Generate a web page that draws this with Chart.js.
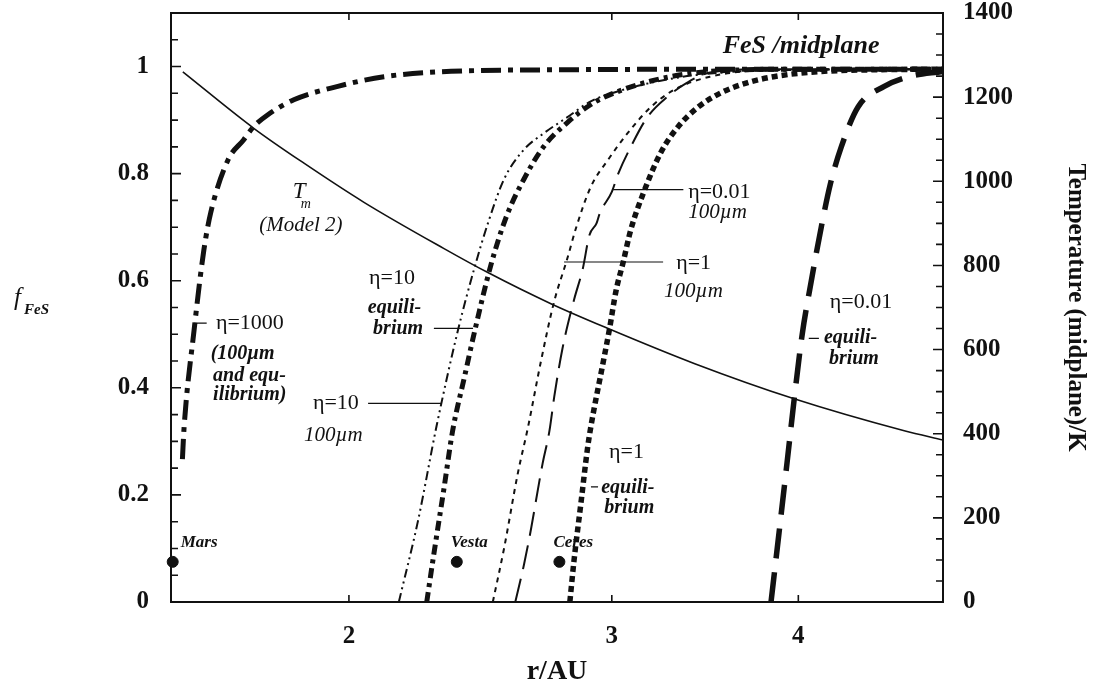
<!DOCTYPE html>
<html>
<head>
<meta charset="utf-8">
<script src="https://cdn.jsdelivr.net/npm/chart.js@4.4.0/dist/chart.umd.min.js"></script>
<style>
body { margin: 0; background: #fff; }
</style>
</head>
<body>
<canvas id="fesChart" width="1100" height="689"></canvas>
<script>
// axis ticks
var rTicks = [2, 3, 4];
var fTicks = [0, 0.2, 0.4, 0.6, 0.8, 1];
var tempTicks = [0, 200, 400, 600, 800, 1000, 1200, 1400];

// midplane temperature, model 2 (K)
var rTemp = [1.548, 1.727, 1.866, 2.047, 2.316, 2.478, 2.731, 2.983, 3.406, 3.974, 4.71, 5.0];
var tempMid = [1260, 1126, 1043, 950, 840, 783, 709, 650, 567, 483, 407, 385];

// FeS fraction, eta = 1000 (100um and equilibrium)
var rEta1000 = [1.547, 1.551, 1.575, 1.599, 1.616, 1.66, 1.70, 1.727, 1.765, 1.837, 1.966, 2.111, 2.341, 2.8, 3.5, 5.0];
var fEta1000 = [0.267, 0.326, 0.507, 0.657, 0.727, 0.826, 0.863, 0.888, 0.91, 0.938, 0.963, 0.981, 0.991, 0.994, 0.995, 0.995];

// eta = 10, 100um grains
var rEta10Grain = [2.16, 2.225, 2.29, 2.366, 2.425, 2.48, 2.541, 2.62, 2.70, 2.80, 2.904, 3.057, 3.27, 3.44, 3.8, 5.0];
var fEta10Grain = [0, 0.152, 0.33, 0.507, 0.62, 0.71, 0.79, 0.845, 0.875, 0.905, 0.935, 0.957, 0.976, 0.985, 0.993, 0.995];

// eta = 10, equilibrium
var rEta10Eq = [2.255, 2.28, 2.316, 2.347, 2.39, 2.43, 2.49, 2.55, 2.62, 2.70, 2.80, 2.92, 3.06, 3.22, 3.43, 4.0, 5.0];
var fEta10Eq = [0, 0.09, 0.213, 0.32, 0.42, 0.51, 0.63, 0.72, 0.79, 0.85, 0.895, 0.933, 0.958, 0.976, 0.989, 0.995, 0.995];

// eta = 1, 100um grains
var rEta1Grain = [2.497, 2.541, 2.595, 2.636, 2.69, 2.744, 2.80, 2.84, 2.904, 2.983, 3.075, 3.188, 3.305, 3.49, 3.8, 5.0];
var fEta1Grain = [0, 0.101, 0.24, 0.326, 0.451, 0.56, 0.64, 0.70, 0.775, 0.826, 0.876, 0.925, 0.957, 0.981, 0.993, 0.995];

// eta = 0.01, 100um grains
var rEta001Grain = [2.585, 2.62, 2.65, 2.676, 2.696, 2.725, 2.745, 2.78, 2.83, 2.869, 2.898, 2.93, 2.945, 3.0, 3.03, 3.089, 3.17, 3.27, 3.37, 3.49, 3.8, 5.0];
var fEta001Grain = [0, 0.07, 0.14, 0.208, 0.258, 0.32, 0.383, 0.473, 0.564, 0.623, 0.685, 0.707, 0.726, 0.766, 0.80, 0.85, 0.906, 0.944, 0.97, 0.989, 0.995, 0.995];

// eta = 1, equilibrium
var rEta1Eq = [2.812, 2.83, 2.86, 2.89, 2.904, 2.959, 2.988, 3.02, 3.052, 3.089, 3.15, 3.235, 3.324, 3.43, 3.55, 3.70, 3.85, 4.1, 4.5, 5.0];
var fEta1Eq = [0, 0.077, 0.183, 0.288, 0.326, 0.445, 0.507, 0.582, 0.633, 0.695, 0.764, 0.839, 0.888, 0.925, 0.951, 0.97, 0.981, 0.99, 0.994, 0.995];

// eta = 0.01, equilibrium
var rEta001Eq = [3.835, 3.883, 3.931, 3.975, 4.024, 4.081, 4.144, 4.202, 4.274, 4.387, 4.567, 4.741, 5.0];
var fEta001Eq = [0, 0.13, 0.26, 0.38, 0.5, 0.6, 0.70, 0.78, 0.85, 0.925, 0.963, 0.981, 0.991];

// bodies marked along the bottom
var planetNames = ['Mars', 'Vesta', 'Ceres'];
var rPlanet = [1.524, 2.362, 2.767];
var fPlanet = [0.075, 0.075, 0.075];

var serif = "'Liberation Serif', 'Times New Roman', serif";
var ink = '#111';

function pts(xs, ys) {
    return xs.map(function (x, i) { return { x: x, y: ys[i] }; });
}

function curve(xs, ys, width, dash, axis) {
    return {
        data: pts(xs, ys),
        yAxisID: axis || 'y',
        showLine: true,
        borderColor: ink,
        borderWidth: width,
        borderDash: dash,
        pointRadius: 0,
        fill: false,
        cubicInterpolationMode: 'monotone'
    };
}

// text placed in data units: [text, r, f, font, align]
var notes = [
    ['FeS /midplane', 4.017, 1.037, 'bold italic 26px', 'center'],
    ['(Model 2)', 1.857, 0.704, 'italic 21px', 'center'],
    ['\u03b7=1000', 1.629, 0.521, '22px', 'left'],
    ['(100\u00b5m', 1.616, 0.464, 'bold italic 20px', 'left'],
    ['and equ-', 1.622, 0.423, 'bold italic 20px', 'left'],
    ['ilibrium)', 1.622, 0.386, 'bold italic 20px', 'left'],
    ['\u03b7=10', 2.063, 0.605, '22px', 'left'],
    ['equili-', 2.059, 0.549, 'bold italic 20px', 'left'],
    ['brium', 2.076, 0.511, 'bold italic 20px', 'left'],
    ['\u03b7=10', 1.892, 0.371, '22px', 'left'],
    ['100\u00b5m', 1.866, 0.311, 'italic 21px', 'left'],
    ['\u03b7=0.01', 3.375, 0.766, '22px', 'left'],
    ['100\u00b5m', 3.375, 0.727, 'italic 21px', 'left'],
    ['\u03b7=1', 3.313, 0.633, '22px', 'left'],
    ['100\u00b5m', 3.252, 0.579, 'italic 21px', 'left'],
    ['\u03b7=0.01', 4.199, 0.560, '22px', 'left'],
    ['equili-', 4.161, 0.4925, 'bold italic 20px', 'left'],
    ['brium', 4.193, 0.455, 'bold italic 20px', 'left'],
    ['\u03b7=1', 2.987, 0.279, '22px', 'left'],
    ['equili-', 2.951, 0.2135, 'bold italic 20px', 'left'],
    ['brium', 2.965, 0.176, 'bold italic 20px', 'left']
];

// leader lines: [r from, r to, f]
var leaders = [
    [1.574, 1.606, 0.521],
    [2.280, 2.422, 0.511],
    [2.060, 2.305, 0.371],
    [3.006, 3.350, 0.770],
    [2.787, 3.247, 0.635],
    [4.065, 4.129, 0.4925],
    [2.905, 2.937, 0.215]
];

var frameAndNotes = {
    id: 'frameAndNotes',
    afterDatasetsDraw: function (chart) {
        var ctx = chart.ctx, a = chart.chartArea;
        var sx = chart.scales.x, sy = chart.scales.y, st = chart.scales.y2;
        ctx.save();

        // box and inward ticks
        ctx.strokeStyle = ink;
        ctx.lineWidth = 2;
        ctx.strokeRect(a.left, a.top, a.right - a.left, a.bottom - a.top);
        ctx.lineWidth = 1.6;
        ctx.beginPath();
        rTicks.forEach(function (v) {
            var px = sx.getPixelForValue(v);
            ctx.moveTo(px, a.bottom); ctx.lineTo(px, a.bottom - 7);
            ctx.moveTo(px, a.top); ctx.lineTo(px, a.top + 7);
        });
        for (var i = 0; i <= 22; i++) {
            var py = sy.getPixelForValue(i * 0.05);
            ctx.moveTo(a.left, py); ctx.lineTo(a.left + (i % 4 === 0 ? 10 : 7), py);
        }
        for (var k = 0; k <= 28; k++) {
            var py2 = st.getPixelForValue(k * 50);
            ctx.moveTo(a.right, py2); ctx.lineTo(a.right - (k % 4 === 0 ? 10 : 7), py2);
        }
        ctx.stroke();

        // leaders
        ctx.lineWidth = 1.2;
        ctx.beginPath();
        leaders.forEach(function (l) {
            var y = sy.getPixelForValue(l[2]);
            ctx.moveTo(sx.getPixelForValue(l[0]), y);
            ctx.lineTo(sx.getPixelForValue(l[1]), y);
        });
        ctx.stroke();

        // labels
        ctx.fillStyle = ink;
        ctx.textBaseline = 'middle';
        notes.forEach(function (n) {
            ctx.font = n[3] + ' ' + serif;
            ctx.textAlign = n[4];
            ctx.fillText(n[0], sx.getPixelForValue(n[1]), sy.getPixelForValue(n[2]));
        });

        // T_m
        var tx = sx.getPixelForValue(1.834), ty = sy.getPixelForValue(0.766);
        ctx.textAlign = 'left';
        ctx.font = 'italic 23px ' + serif;
        ctx.fillText('T', tx, ty);
        ctx.font = 'italic 14px ' + serif;
        ctx.fillText('m', tx + 8, ty + 12);

        // planet names
        ctx.font = 'bold italic 17px ' + serif;
        planetNames.forEach(function (name, j) {
            var off = j === 0 ? 8 : -6;
            ctx.fillText(name, sx.getPixelForValue(rPlanet[j]) + off, sy.getPixelForValue(fPlanet[j] + 0.036));
        });

        // left axis title f_FeS
        var ly = sy.getPixelForValue(0.56);
        ctx.font = 'italic 25px ' + serif;
        ctx.fillText('f', 14, ly - 4);
        ctx.font = 'bold italic 15px ' + serif;
        ctx.fillText('FeS', 24, ly + 8);

        ctx.restore();
    }
};

var tickFont = { family: serif, size: 25, weight: 'bold' };

// vertical axes: fixed width, no extra label padding at the ends
function fixWidth(w) {
    return function (scale) {
        scale.width = w;
        scale.paddingTop = 0;
        scale.paddingBottom = 0;
    };
}

new Chart(document.getElementById('fesChart'), {
    type: 'scatter',
    data: {
        datasets: [
            curve(rTemp, tempMid, 1.6, [], 'y2'),
            curve(rEta1000, fEta1000, 5, [20, 7, 5, 7]),
            curve(rEta10Grain, fEta10Grain, 2, [9, 4, 2, 4, 2, 4]),
            curve(rEta10Eq, fEta10Eq, 5, [10, 5, 4, 5]),
            curve(rEta1Grain, fEta1Grain, 2, [5, 5]),
            curve(rEta001Grain, fEta001Grain, 2, [24, 10]),
            curve(rEta1Eq, fEta1Eq, 5.5, [6, 4]),
            curve(rEta001Eq, fEta001Eq, 5.5, [30, 14]),
            {
                data: pts(rPlanet, fPlanet),
                yAxisID: 'y',
                pointRadius: 5.5,
                pointBackgroundColor: ink,
                pointBorderColor: ink,
                showLine: false,
                clip: false
            }
        ]
    },
    options: {
        responsive: false,
        animation: false,
        layout: { padding: { top: 13, left: 0, right: 0, bottom: 0 } },
        plugins: { legend: { display: false }, tooltip: { enabled: false } },
        scales: {
            x: {
                type: 'logarithmic',
                min: 1.52,
                max: 5,
                grid: { display: false, drawTicks: false },
                border: { display: false },
                afterBuildTicks: function (scale) {
                    scale.ticks = rTicks.map(function (v) { return { value: v }; });
                },
                ticks: {
                    callback: function (v) { return String(v); },
                    font: tickFont, color: ink, padding: 20, maxRotation: 0, autoSkip: false
                },
                title: {
                    display: true, text: 'r/AU', color: ink,
                    font: { family: serif, size: 28, weight: 'bold' },
                    padding: { top: 0, bottom: 0 }
                },
                afterFit: function (scale) {
                    scale.height = 87;
                    scale.paddingLeft = 0;
                    scale.paddingRight = 0;
                }
            },
            y: {
                position: 'left',
                min: 0,
                max: 1.1,
                grid: { display: false, drawTicks: false },
                border: { display: false },
                afterBuildTicks: function (scale) {
                    scale.ticks = fTicks.map(function (v) { return { value: v }; });
                },
                ticks: {
                    callback: function (v) { return (v === 0 || v === 1) ? String(v) : v.toFixed(1); },
                    font: tickFont, color: ink, padding: 22
                },
                afterFit: fixWidth(171)
            },
            y2: {
                position: 'right',
                min: 0,
                max: 1400,
                grid: { display: false, drawTicks: false },
                border: { display: false },
                afterBuildTicks: function (scale) {
                    scale.ticks = tempTicks.map(function (v) { return { value: v }; });
                },
                ticks: {
                    callback: function (v) { return String(v); },
                    font: tickFont, color: ink, padding: 20
                },
                title: {
                    display: true, text: 'Temperature (midplane)/K', color: ink,
                    font: { family: serif, size: 25, weight: 'bold' },
                    padding: { top: 10, bottom: 0 }
                },
                afterFit: fixWidth(157)
            }
        }
    },
    plugins: [frameAndNotes]
});
</script>
</body>
</html>
